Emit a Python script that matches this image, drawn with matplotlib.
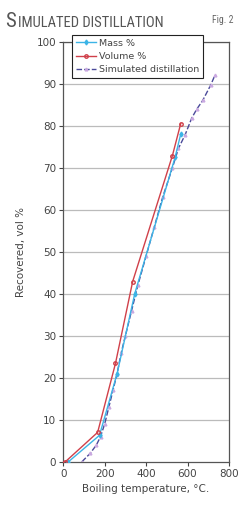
from matplotlib import pyplot as plt
from matplotlib import font_manager

# Data
mass_temp = [25, 175, 260, 345, 540, 567]
mass_pct = [0, 6.3, 21, 40, 72.5, 78]

volume_temp = [10, 166, 252, 335, 527, 567]
volume_pct = [0, 7.0, 23.4, 42.9, 72.9, 80.5]

simdist_temp = [90, 130, 160, 180, 200, 220, 240, 260, 280, 300, 330, 360,
                400, 440, 480, 527, 556, 588, 620, 644, 673, 712, 732]
simdist_pct = [0, 2, 4, 6, 9, 13, 17, 21, 26, 30, 36, 42,
               49, 56, 63, 70, 74.6, 77.8, 81.8, 83.9, 86, 89.7, 92]

x_ticks = [0, 200, 400, 600, 800]
y_ticks = list(range(0, 101, 10))

TEXT_COLOR = '#444444'

# pick a narrow face for the title if one is around
names = {f.name for f in font_manager.fontManager.ttflist}
narrow = [n for n in ('Liberation Sans Narrow', 'DejaVu Sans Condensed', 'Roboto Condensed')
          if n in names]
TITLE_FONT = narrow[0] if narrow else 'Roboto'

fig = plt.figure(figsize=(2.5, 5.08), dpi=100)
ax = fig.add_axes([0.253, 0.091, 0.663, 0.827])

for y in y_ticks[1:]:
    ax.axhline(y, color='#bbbbbb', linewidth=0.9, zorder=0)

ax.plot(mass_temp, mass_pct, color='#3cb4e6', linewidth=1.0,
        marker='d', markersize=2.5, label='Mass %', zorder=3)
ax.plot(volume_temp, volume_pct, color='#d0404a', linewidth=1.0,
        marker='o', markersize=2.5, markerfacecolor='none', label='Volume %', zorder=4)
ax.plot(simdist_temp, simdist_pct, color='#4a4a9a', linewidth=1.0, linestyle=(0, (4, 1.5)),
        marker='^', markersize=2, markerfacecolor='#c9a8e0', markeredgecolor='#c9a8e0',
        label='Simulated distillation', zorder=2)

ax.set_xlim(0, 800)
ax.set_ylim(0, 100)
ax.set_xticks(x_ticks)
ax.set_yticks(y_ticks)
ax.tick_params(labelsize=7.5, colors=TEXT_COLOR, length=3, width=0.8, pad=2)
for spine in ax.spines.values():
    spine.set_color('#555555')
    spine.set_linewidth(0.9)

ax.set_xlabel('Boiling temperature, \u00b0C.', fontsize=7.5, color=TEXT_COLOR, labelpad=4)
ax.set_ylabel('Recovered, vol %', fontsize=7.5, color=TEXT_COLOR, labelpad=8)

leg = ax.legend(loc='upper left', bbox_to_anchor=(0.052, 1.016), borderaxespad=0,
                fontsize=6.8, frameon=True, fancybox=False, handlelength=2.2,
                handletextpad=0.3, labelspacing=0.45, borderpad=0.4)
leg.get_frame().set_edgecolor('#222222')
leg.get_frame().set_linewidth(0.8)
leg.get_frame().set_alpha(1)
leg.set_zorder(10)
for t in leg.get_texts():
    t.set_color(TEXT_COLOR)

# Title in small caps, drawn as two pieces
fig.text(0.02, 0.947, 'S', fontsize=15, color='#555555', family=TITLE_FONT)
fig.text(0.07, 0.947, 'IMULATED DISTILLATION', fontsize=10.5, color='#555555',
         family=TITLE_FONT)
fig.text(0.85, 0.955, 'Fig. 2', fontsize=7, color='#666666', family=TITLE_FONT)

plt.savefig('out.png', dpi=100)
